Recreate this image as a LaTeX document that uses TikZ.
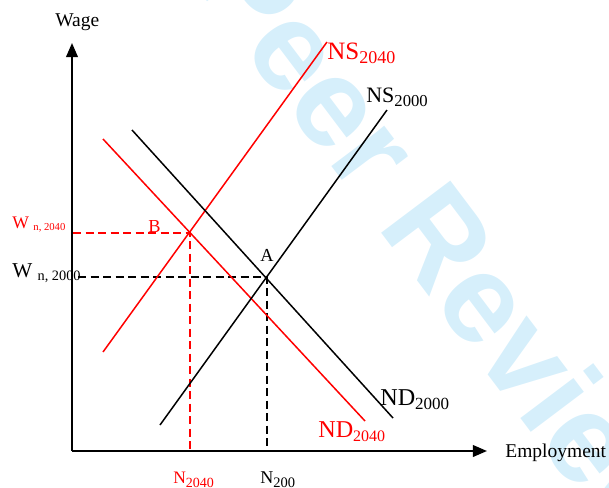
\documentclass[tikz,border=0pt]{standalone}
\usepackage{fontspec}
\setmainfont{Liberation Serif}
\newfontfamily\wmfont{Liberation Sans}
\usepackage{xcolor}
\usetikzlibrary{arrows.meta}
\definecolor{curvered}{RGB}{255, 0, 0}
\definecolor{wmblue}{RGB}{214, 239, 251}
\newcommand{\sublbl}[2]{\raisebox{-2.5pt}{\fontsize{#1}{#1}\selectfont #2}}

\begin{document}
\begin{tikzpicture}[
    x=0.6pt, y=-0.6pt, % one unit = one pixel of the reference, y downwards
    axis/.style={line width=1.2pt, -{Triangle[length=8.5pt, width=7pt]}},
    curve/.style={line width=0.9pt},
    guide/.style={line width=0.9pt, dash pattern=on 5pt off 2.5pt},
    lbl/.style={inner sep=0pt, anchor=base west}
]
    \useasboundingbox (0, 0) rectangle (609, 488);

    % Watermark
    \begin{scope}
        \clip (0, 0) rectangle (609, 488);
        \node (wm) [text=wmblue, font=\wmfont\bfseries\fontsize{75.6}{75.6}\selectfont, rotate=-53, anchor=base, inner sep=0pt] at (343, 182) {For Peer Review};
    \end{scope}

    % Points
    \coordinate (orig) at (72, 451);
    \coordinate (ytip) at (72, 43);
    \coordinate (xtip) at (487, 451);
    \coordinate (ns40lo) at (103, 352);
    \coordinate (ns40hi) at (327, 42);
    \coordinate (ns00lo) at (160, 425);
    \coordinate (ns00hi) at (387, 110);
    \coordinate (nd00hi) at (132, 130);
    \coordinate (nd00lo) at (393, 418);
    \coordinate (nd40hi) at (103, 139);
    \coordinate (nd40lo) at (365, 421);
    \coordinate (ptA) at (267, 277);
    \coordinate (ptB) at (190, 233);
    \coordinate (wB) at (73, 233);
    \coordinate (wA) at (78, 277);
    \coordinate (nB) at (190, 451);
    \coordinate (nA) at (267, 451);

    % Dashed guides
    \draw [guide, draw=curvered] (wB) -- (ptB) -- (nB);
    \draw [guide] (wA) -- (ptA) -- (nA);

    % Supply and demand lines
    \draw [curve, draw=curvered] (ns40lo) -- (ns40hi);
    \draw [curve, draw=curvered] (nd40hi) -- (nd40lo);
    \draw [curve] (ns00lo) -- (ns00hi);
    \draw [curve] (nd00hi) -- (nd00lo);

    % Axes
    \draw [axis] (orig) -- (ytip);
    \draw [axis] (orig) -- (xtip);

    % Labels
    \node (wage) [lbl, font=\fontsize{11.7}{11.7}\selectfont] at (55, 26) {Wage};
    \node (empl) [lbl, font=\fontsize{11.7}{11.7}\selectfont] at (505, 457) {Employment};
    \node (ns40) [lbl, text=curvered, font=\fontsize{15}{15}\selectfont] at (327, 59) {NS\sublbl{10.8}{2040}};
    \node (ns00) [lbl, font=\fontsize{13.2}{13.2}\selectfont] at (366, 102) {NS\sublbl{10}{2000}};
    \node (nd00) [lbl, font=\fontsize{14.5}{14.5}\selectfont] at (380, 405) {ND\sublbl{10.2}{2000}};
    \node (nd40) [lbl, text=curvered, font=\fontsize{14.5}{14.5}\selectfont] at (318, 437) {ND\sublbl{9.6}{2040}};
    \node (n40) [lbl, text=curvered, font=\fontsize{10.5}{10.5}\selectfont] at (173, 483) {N\sublbl{8.4}{2040}};
    \node (n00) [lbl, font=\fontsize{10.8}{10.8}\selectfont] at (260, 483) {N\sublbl{8.7}{200}};
    \node (w40) [lbl, text=curvered, font=\fontsize{10.6}{10.6}\selectfont] at (12, 228) {W \raisebox{-1.2pt}{\fontsize{6.4}{6.4}\selectfont n, 2040}};
    \node (w00) [lbl, font=\fontsize{12.7}{12.7}\selectfont] at (12, 277) {W \raisebox{-1.8pt}{\fontsize{8.6}{8.6}\selectfont n, 2000}};
    \node (lblB) [lbl, text=curvered, font=\fontsize{11}{11}\selectfont] at (148, 232) {B};
    \node (lblA) [lbl, font=\fontsize{11}{11}\selectfont] at (260, 261) {A};

\end{tikzpicture}
\end{document}
